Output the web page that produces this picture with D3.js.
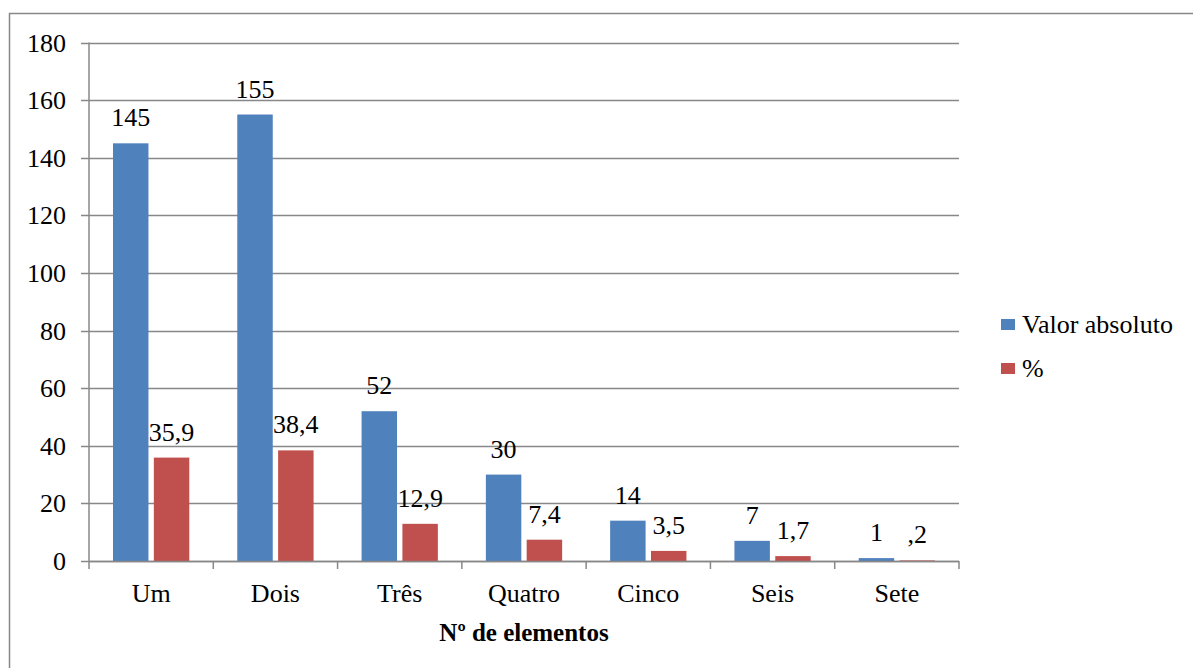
<!DOCTYPE html>
<html><head><meta charset="utf-8">
<script src="https://cdn.jsdelivr.net/npm/d3@7"></script>
</head><body style="margin:0">
<script>
const categories = ["Um","Dois","Três","Quatro","Cinco","Seis","Sete"];
const valorAbsoluto = [145,155,52,30,14,7,1];
const percent = [35.9,38.4,12.9,7.4,3.5,1.7,0.2];
const percentLabels = ["35,9","38,4","12,9","7,4","3,5","1,7",",2"];
const yTicks = [0,20,40,60,80,100,120,140,160,180];
const seriesNames = ["Valor absoluto","%"];
const colors = ["#4F81BD","#C0504D"];

const W=1193,H=668;
const FONT="'Liberation Serif', 'Times New Roman', serif";
const svg=d3.select("body").append("svg").attr("width",W).attr("height",H).style("display","block");
function txt(sel){return sel.attr("font-family","Liberation Serif").style("font-family",FONT,"important").attr("font-size",26).attr("fill","#000");}
svg.append("rect").attr("x",9.5).attr("y",13.5).attr("width",1200).attr("height",700)
  .attr("fill","none").attr("stroke","#888").attr("stroke-width",1.5);

const x0=89,x1=959,yTop=42.5,yBot=561;
const x=d3.scaleBand().domain(categories).range([x0,x1]).paddingInner(0).paddingOuter(0);
const y=d3.scaleLinear().domain([0,180]).range([yBot,yTop]);
const inner=d3.scaleBand().domain([0,1]).range([24,x.bandwidth()-24]).paddingInner(10/76);

svg.append("g").selectAll("line").data(yTicks).join("line")
  .attr("x1",x0-8).attr("x2",x1).attr("y1",d=>Math.round(y(d))+0.5).attr("y2",d=>Math.round(y(d))+0.5)
  .attr("stroke","#888").attr("stroke-width",1.5);
svg.append("line").attr("x1",x0).attr("x2",x0).attr("y1",yTop).attr("y2",yBot).attr("stroke","#888").attr("stroke-width",1.5);
txt(svg.append("g").selectAll("text").data(yTicks).join("text"))
  .attr("x",66).attr("y",d=>y(d)+9).attr("text-anchor","end").text(d=>d);

const series=[valorAbsoluto,percent];
const labels=[valorAbsoluto.map(String),percentLabels];
series.forEach((vals,si)=>{
  svg.append("g").selectAll("rect").data(vals).join("rect")
    .attr("x",(d,i)=>x(categories[i])+inner(si)).attr("width",inner.bandwidth())
    .attr("y",d=>y(d)).attr("height",d=>yBot-y(d)).attr("fill",colors[si]);
  txt(svg.append("g").selectAll("text").data(vals).join("text"))
    .attr("x",(d,i)=>x(categories[i])+inner(si)+inner.bandwidth()/2)
    .attr("y",d=>y(d)-17).attr("text-anchor","middle").text((d,i)=>labels[si][i]);
});
svg.append("line").attr("x1",x0).attr("x2",x1).attr("y1",yBot+0.5).attr("y2",yBot+0.5).attr("stroke","#888").attr("stroke-width",1.5);
const ticks=categories.map(c=>x(c)).concat([x1]);
svg.append("g").selectAll("line").data(ticks).join("line")
  .attr("x1",d=>d).attr("x2",d=>d).attr("y1",yBot).attr("y2",yBot+8).attr("stroke","#888").attr("stroke-width",1.5);
txt(svg.append("g").selectAll("text").data(categories).join("text"))
  .attr("x",d=>x(d)+x.bandwidth()/2).attr("y",602).attr("text-anchor","middle").text(d=>d);
txt(svg.append("text")).attr("x",524).attr("y",641).attr("text-anchor","middle")
  .attr("font-weight","bold").attr("font-size",25).text("Nº de elementos");

seriesNames.forEach((n,i)=>{
  svg.append("rect").attr("x",1001).attr("y",319+i*44).attr("width",14).attr("height",11).attr("fill",colors[i]);
  txt(svg.append("text")).attr("x",1022).attr("y",333+i*44).text(n);
});
</script>
</body></html>
